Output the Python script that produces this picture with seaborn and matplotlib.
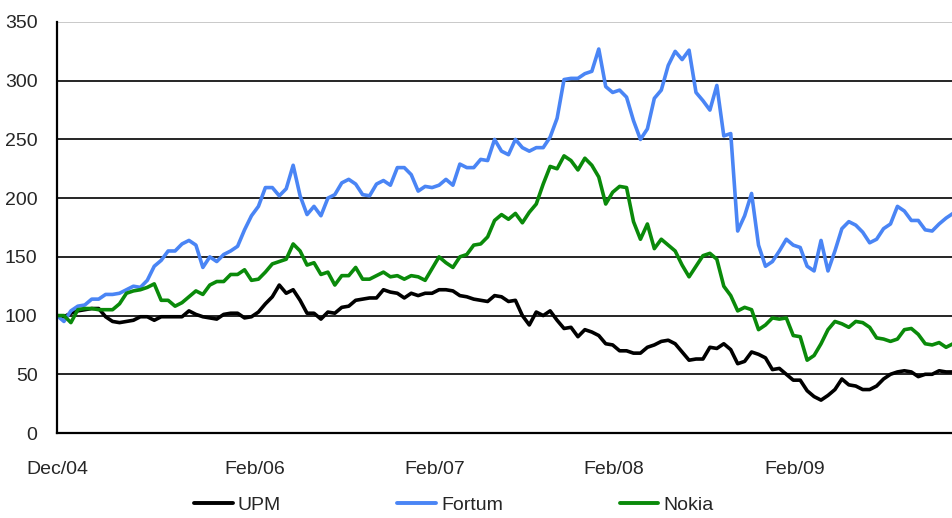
import numpy as np
import pandas as pd
import seaborn as sns
import matplotlib.pyplot as plt
from matplotlib.lines import Line2D

# Indexed prices (Dec/04 = 100), one value every two weeks
upm = [100, 99, 102, 104, 105, 106, 106, 99, 95, 94,
       95, 96, 99, 99, 96, 99, 99, 99, 99, 104,
       101, 99, 98, 97, 101, 102, 102, 98, 99, 103,
       110, 116, 126, 119, 122, 113, 102, 102, 97, 103,
       102, 107, 108, 113, 114, 115, 115, 122, 120, 119,
       115, 119, 117, 119, 119, 122, 122, 121, 117, 116,
       114, 113, 112, 117, 116, 112, 113, 100, 92, 103,
       100, 104, 96, 89, 90, 82, 88, 86, 83, 76,
       75, 70, 70, 68, 68, 73, 75, 78, 79, 76,
       69, 62, 63, 63, 73, 72, 76, 71, 59, 61,
       69, 67, 64, 54, 55, 50, 45, 45, 36, 31,
       28, 32, 37, 46, 41, 40, 37, 37, 40, 46,
       50, 52, 53, 52, 48, 50, 50, 53, 52, 52]

fortum = [100, 95, 104, 108, 109, 114, 114, 118, 118, 119,
          122, 125, 124, 130, 142, 147, 155, 155, 161, 164,
          160, 141, 150, 146, 152, 155, 159, 173, 185, 193,
          209, 209, 202, 208, 228, 202, 186, 193, 185, 200,
          203, 213, 216, 212, 203, 202, 212, 215, 211, 226,
          226, 220, 206, 210, 209, 211, 216, 211, 229, 226,
          226, 233, 232, 250, 240, 237, 250, 243, 240, 243,
          243, 252, 268, 301, 302, 302, 306, 308, 327, 295,
          290, 292, 286, 266, 250, 259, 285, 292, 313, 325,
          318, 326, 290, 283, 275, 296, 253, 255, 172, 185,
          204, 160, 142, 146, 155, 165, 160, 158, 142, 138,
          164, 138, 155, 174, 180, 177, 171, 162, 165, 174,
          178, 193, 189, 181, 181, 173, 172, 178, 183, 187]

nokia = [100, 100, 94, 105, 106, 106, 105, 105, 105, 110,
         119, 121, 122, 124, 127, 113, 113, 108, 111, 116,
         121, 118, 126, 129, 129, 135, 135, 139, 130, 131,
         137, 144, 146, 148, 161, 155, 143, 145, 135, 137,
         126, 134, 134, 141, 131, 131, 134, 137, 133, 134,
         131, 134, 133, 130, 140, 150, 145, 141, 150, 152,
         160, 161, 167, 181, 186, 182, 187, 179, 188, 195,
         212, 227, 225, 236, 232, 224, 234, 228, 218, 195,
         205, 210, 209, 180, 165, 178, 157, 165, 160, 155,
         143, 133, 142, 151, 153, 148, 125, 117, 104, 107,
         105, 88, 92, 98, 97, 98, 83, 82, 62, 66,
         76, 88, 95, 93, 90, 95, 94, 90, 81, 80,
         78, 80, 88, 89, 84, 76, 75, 77, 73, 76]

series_names = ['UPM', 'Fortum', 'Nokia']
colors = ['#000000', '#4a85f5', '#0a8a0a']
tick_labels = ['Dec/04', 'Feb/06', 'Feb/07', 'Feb/08', 'Feb/09']
tick_steps = [0, 28.5, 54.4, 80.2, 106.2]

df = pd.DataFrame({'period': np.arange(len(upm)),
                   'UPM': upm, 'Fortum': fortum, 'Nokia': nokia})
long_df = df.melt(id_vars='period', var_name='series', value_name='value')

sns.set_style('white')
plt.rcParams['font.family'] = ['Liberation Sans', 'DejaVu Sans']

fig = plt.figure(figsize=(9.53, 5.18), dpi=100)
ax = fig.add_axes([57 / 953, 85 / 518, 896 / 953, 411 / 518])

sns.lineplot(data=long_df, x='period', y='value', hue='series',
             hue_order=series_names, palette=colors, linewidth=2.6,
             legend=False, ax=ax)

ax.set_xlim(0, len(upm) - 1)
ax.set_ylim(0, 350)
ax.set_yticks(range(0, 351, 50))
ax.set_xticks(tick_steps)
ax.set_xticklabels(tick_labels)
ax.set_xlabel('')
ax.set_ylabel('')

ax.yaxis.grid(True, color='black', linewidth=1.2)
ax.set_axisbelow(True)
ax.get_ygridlines()[-1].set_color('#c0c0c0')

for side in ['top', 'right']:
    ax.spines[side].set_visible(False)
for side in ['left', 'bottom']:
    ax.spines[side].set_color('black')
    ax.spines[side].set_linewidth(1.6)

ax.tick_params(axis='y', direction='out', length=5, width=1.4, color='black',
               labelsize=14, pad=9)
ax.tick_params(axis='x', direction='in', length=6, width=1.4, color='black',
               labelsize=14, pad=20)

handles = [Line2D([0], [0], color=c, linewidth=2.8) for c in colors]
fig.legend(handles, series_names, loc='center', bbox_to_anchor=(0.476, 0.025),
           ncol=3, frameon=False, fontsize=14, handlelength=2.0,
           handletextpad=0.25, columnspacing=6.0, borderpad=0.1)

fig.savefig('out.png', dpi=100)
